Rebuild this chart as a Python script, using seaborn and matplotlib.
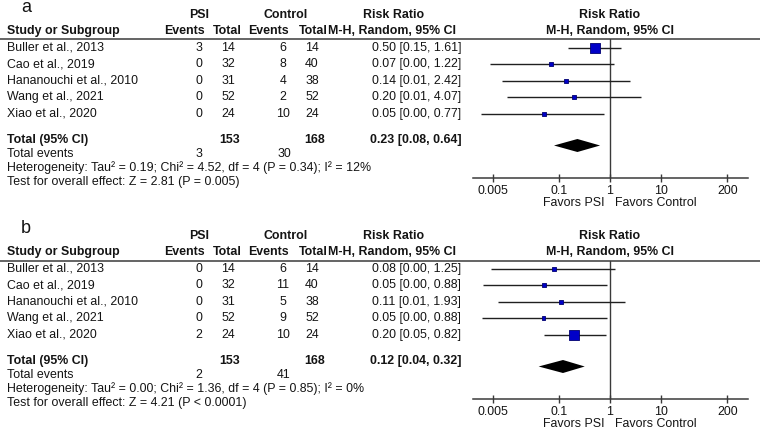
"""Forest plots (risk ratio, PSI vs control) for two outcomes, panels a and b."""

import matplotlib

matplotlib.use("Agg")
import matplotlib.pyplot as plt
import numpy as np
import pandas as pd
import seaborn as sns
from matplotlib.ticker import NullLocator
from matplotlib.transforms import blended_transform_factory

# ---- data ----
studies = ["Buller et al., 2013", "Cao et al., 2019", "Hananouchi et al., 2010",
           "Wang et al., 2021", "Xiao et al., 2020"]
psi_total = [14, 32, 31, 52, 24]
ctrl_total = [14, 40, 38, 52, 24]

a_psi_events = [3, 0, 0, 0, 0]
a_ctrl_events = [6, 8, 4, 2, 10]
a_rr = [0.50, 0.07, 0.14, 0.20, 0.05]
a_ci_low = [0.15, 0.0044, 0.0076, 0.0098, 0.0030]
a_ci_high = [1.61, 1.22, 2.42, 4.07, 0.77]
a_pooled = [0.23, 0.08, 0.64]
a_heterogeneity = "Heterogeneity: Tau² = 0.19; Chi² = 4.52, df = 4 (P = 0.34); I² = 12%"
a_overall = "Test for overall effect: Z = 2.81 (P = 0.005)"

b_psi_events = [0, 0, 0, 0, 2]
b_ctrl_events = [6, 11, 5, 9, 10]
b_rr = [0.08, 0.05, 0.11, 0.05, 0.20]
b_ci_low = [0.0047, 0.0033, 0.0064, 0.0031, 0.05]
b_ci_high = [1.25, 0.88, 1.93, 0.88, 0.82]
b_pooled = [0.12, 0.04, 0.32]
b_heterogeneity = "Heterogeneity: Tau² = 0.00; Chi² = 1.36, df = 4 (P = 0.85); I² = 0%"
b_overall = "Test for overall effect: Z = 4.21 (P < 0.0001)"

tick_values = [0.005, 0.1, 1, 10, 200]
tick_labels = ["0.005", "0.1", "1", "10", "200"]

# ---- layout (pixels) ----
W, H = 764, 436
FS = 8.9
INK = "#141414"
ROW0, ROW_STEP = 47.8, 16.5
HEAD_LINE, AXIS_Y = 39.5, 178.3
FOREST_X0, FOREST_X1 = 472.7, 748.3

sns.set_theme(style="white")
plt.rcParams["font.family"] = ["Liberation Sans", "DejaVu Sans"]

fig = plt.figure(figsize=(W / 100, H / 100), dpi=100)
ax_tab = fig.add_axes([0, 0, 1, 1])
ax_tab.set_xlim(0, W)
ax_tab.set_ylim(H, 0)
ax_tab.axis("off")


def draw_panel(off, label, psi_events, ctrl_events, rr, lo, hi, pooled, het, overall):
    def put(x, y, s, ha="left", bold=False, size=FS):
        ax_tab.text(x, y + off, s, ha=ha, va="center", fontsize=size, color=INK,
                    fontweight="bold" if bold else "normal")

    rows = [ROW0 + i * ROW_STEP for i in range(len(studies))]

    # table headers
    put(21, 7, label, size=13)
    put(199, 15, "PSI", ha="center", bold=True)
    put(286, 15, "Control", ha="center", bold=True)
    put(394, 15, "Risk Ratio", ha="center", bold=True)
    put(7, 31, "Study or Subgroup", bold=True)
    put(184, 31, "Events", ha="center", bold=True)
    put(227, 31, "Total", ha="center", bold=True)
    put(268, 31, "Events", ha="center", bold=True)
    put(313, 31, "Total", ha="center", bold=True)
    put(392, 31, "M-H, Random, 95% CI", ha="center", bold=True)
    ax_tab.hlines(HEAD_LINE + off, 0, 760, color="#3a3a3a", lw=1.1)

    # study rows
    for y, name, pe, pt, ce, ct, r, l, h in zip(rows, studies, psi_events, psi_total,
                                                 ctrl_events, ctrl_total, rr, lo, hi):
        put(7, y, name)
        put(199, y, str(pe), ha="center")
        put(228, y, str(pt), ha="center")
        put(283, y, str(ce), ha="center")
        put(312, y, str(ct), ha="center")
        put(461, y, f"{r:.2f} [{l:.2f}, {h:.2f}]", ha="right")

    # totals and summary lines
    put(7, 139.5, "Total (95% CI)", bold=True)
    put(230, 139.5, str(sum(psi_total)), ha="center", bold=True)
    put(315, 139.5, str(sum(ctrl_total)), ha="center", bold=True)
    put(462, 139.5, f"{pooled[0]:.2f} [{pooled[1]:.2f}, {pooled[2]:.2f}]", ha="right", bold=True)
    put(7, 154, "Total events")
    put(199, 154, str(sum(psi_events)), ha="center")
    put(284, 154, str(sum(ctrl_events)), ha="center")
    put(7, 168, het)
    put(7, 182, overall)

    # forest plot
    ax = fig.add_axes([FOREST_X0 / W, 1 - (AXIS_Y + off) / H,
                       (FOREST_X1 - FOREST_X0) / W, (AXIS_Y - HEAD_LINE) / H])
    ax.set_xscale("log")
    ax.set_xlim(10 ** -2.69, 10 ** 2.71)
    ax.set_ylim(AXIS_Y, HEAD_LINE)
    ax.patch.set_alpha(0)
    for side in ("top", "left", "right"):
        ax.spines[side].set_visible(False)
    ax.spines["bottom"].set_color("#3a3a3a")
    ax.spines["bottom"].set_linewidth(1.1)
    ax.axvline(1, color="#3a3a3a", lw=1.0, zorder=1)

    se = (np.log(hi) - np.log(lo)) / 3.92
    frame = pd.DataFrame({"rr": rr, "row": rows, "weight": 1 / se ** 2})
    ax.hlines(frame["row"], lo, hi, color="#202020", lw=1.0, zorder=2)
    sns.scatterplot(data=frame, x="rr", y="row", size="weight", sizes=(7, 52),
                    marker="s", color="#0000c8", edgecolor="#000070", linewidth=0.6,
                    legend=False, zorder=3, ax=ax)

    dy = 145.5
    half = 6.5
    ax.fill([pooled[1], pooled[0], pooled[2], pooled[0]],
            [dy, dy - half, dy, dy + half], color="black", lw=0, zorder=3)

    ax.set_xticks(tick_values)
    ax.set_xticklabels(tick_labels)
    ax.xaxis.set_minor_locator(NullLocator())
    ax.set_yticks([])
    ax.tick_params(axis="x", direction="inout", length=6, width=1.0, color="#3a3a3a",
                   pad=1.5, labelsize=FS, labelcolor=INK, bottom=True)
    ax.set(xlabel="", ylabel="")

    trans = blended_transform_factory(ax.transData, ax_tab.transData)
    for y, s in ((15, "Risk Ratio"), (31, "M-H, Random, 95% CI")):
        ax_tab.text(1, y + off, s, transform=trans, ha="center", va="center", fontsize=FS,
                    color=INK, fontweight="bold")
    ax_tab.annotate("Favors PSI", xy=(1, 203 + off), xycoords=trans, xytext=(-5, 0),
                    textcoords="offset pixels", ha="right", va="center", fontsize=FS, color=INK)
    ax_tab.annotate("Favors Control", xy=(1, 203 + off), xycoords=trans, xytext=(5, 0),
                    textcoords="offset pixels", ha="left", va="center", fontsize=FS, color=INK)


draw_panel(0, "a", a_psi_events, a_ctrl_events, a_rr, a_ci_low, a_ci_high,
           a_pooled, a_heterogeneity, a_overall)
draw_panel(221, "b", b_psi_events, b_ctrl_events, b_rr, b_ci_low, b_ci_high,
           b_pooled, b_heterogeneity, b_overall)

fig.savefig("out.png", dpi=100)
plt.close(fig)
